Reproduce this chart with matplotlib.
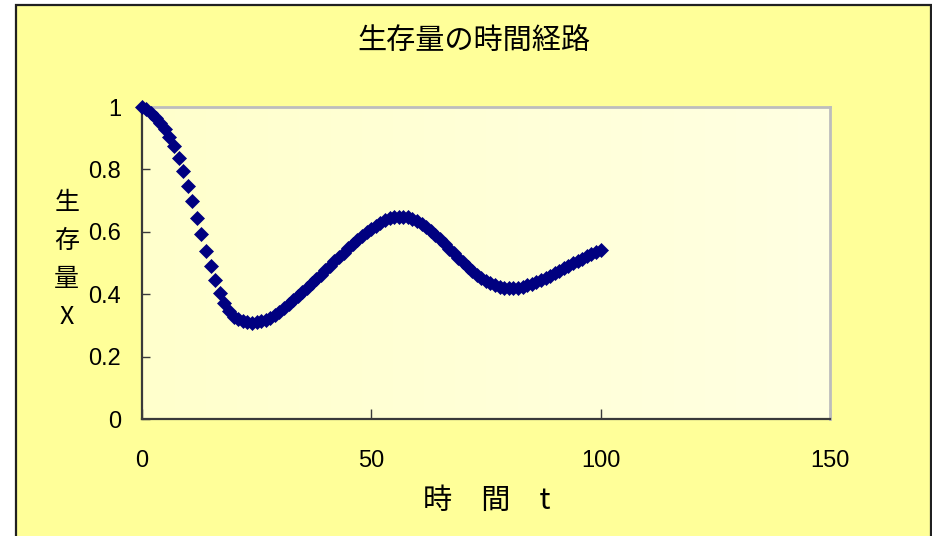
import numpy as np
import matplotlib
matplotlib.use("Agg")
import matplotlib.pyplot as plt
from matplotlib.patches import Rectangle

# Survival stock X over time t
t_values = list(range(0, 101))
x_values = [
    1.000, 0.993, 0.982, 0.966, 0.950, 0.930, 0.905, 0.874, 0.836, 0.794,
    0.748, 0.698, 0.645, 0.592, 0.539, 0.490, 0.445, 0.405, 0.372, 0.347,
    0.328, 0.319, 0.313, 0.310, 0.309, 0.310, 0.313, 0.318, 0.325, 0.334,
    0.344, 0.355, 0.367, 0.380, 0.393, 0.407, 0.421, 0.435, 0.449, 0.463,
    0.477, 0.491, 0.505, 0.519, 0.533, 0.547, 0.561, 0.574, 0.587, 0.599,
    0.610, 0.620, 0.629, 0.637, 0.643, 0.647, 0.649, 0.649, 0.647, 0.642,
    0.635, 0.626, 0.615, 0.603, 0.590, 0.576, 0.561, 0.546, 0.531, 0.516,
    0.502, 0.488, 0.475, 0.463, 0.452, 0.443, 0.435, 0.429, 0.424, 0.421,
    0.420, 0.420, 0.421, 0.424, 0.428, 0.433, 0.439, 0.445, 0.452, 0.459,
    0.467, 0.475, 0.483, 0.491, 0.499, 0.507, 0.514, 0.521, 0.528, 0.535,
    0.541,
]

x_ticks = [0, 50, 100, 150]
y_ticks = [0, 0.2, 0.4, 0.6, 0.8, 1.0]
y_tick_labels = ["0", "0.2", "0.4", "0.6", "0.8", "1"]

title_text = "生存量の時間経路"
xlabel_text = "時\u3000間\u3000t"
ylabel_text = "生\n存\n量\nX"

W, H = 932, 536
cjk = ["Noto Sans CJK JP", "DejaVu Sans"]
num_font = ["Liberation Sans Narrow", "Liberation Sans", "DejaVu Sans"]

fig = plt.figure(figsize=(W / 100, H / 100), dpi=100)
fig.patch.set_facecolor("white")

# chart frame
frame = Rectangle((15.5 / W, -0.05), (931 - 15.5) / W, (H - 4.5) / H + 0.05,
                  transform=fig.transFigure, facecolor="#FFFF99",
                  edgecolor="#202020", linewidth=1.6, zorder=-1)
fig.patches.append(frame)

ax_l, ax_r = 141.8 / W, 830 / W
ax_b, ax_t = 1 - 419 / H, 1 - 107 / H
ax = fig.add_axes([ax_l, ax_b, ax_r - ax_l, ax_t - ax_b])
ax.set_zorder(2)
ax.set_xlim(0, 150)
ax.set_ylim(0, 1)

# plot-area fill with a soft horizontal gradient
grad = np.linspace(0, 1, 256).reshape(1, -1)
cmap = matplotlib.colors.LinearSegmentedColormap.from_list(
    "pa", ["#FFFFCC", "#FFFFE2"])
ax.imshow(grad, extent=[0, 150, 0, 1], aspect="auto", cmap=cmap,
          zorder=0, interpolation="bilinear")

ax.plot(t_values, x_values, linestyle="none", marker="D", markersize=7.4,
        color="#000080", markeredgewidth=0.5, clip_on=False, zorder=3)

for side in ("top", "right"):
    ax.spines[side].set_color("#BDBDBD")
    ax.spines[side].set_linewidth(2.0)
for side in ("left", "bottom"):
    ax.spines[side].set_color("#3A3A3A")
    ax.spines[side].set_linewidth(1.6)

ax.set_xticks(x_ticks)
ax.set_xticklabels([str(v) for v in x_ticks], fontfamily=num_font, fontsize=17)
ax.set_yticks(y_ticks)
ax.set_yticklabels(y_tick_labels, fontfamily=num_font, fontsize=17)
ax.tick_params(axis="x", direction="in", length=7, width=1.0, color="#3A3A3A",
               pad=22)
ax.tick_params(axis="y", direction="in", length=6, width=1.0, color="#3A3A3A",
               pad=15)

fig.text(474 / W, 1 - 41 / H, title_text, ha="center", va="center",
         fontsize=21, family=cjk)
fig.text(487 / W, 1 - 501 / H, xlabel_text, ha="center", va="center",
         fontsize=21, family=cjk)
fig.text(66.7 / W, 1 - 260 / H, ylabel_text, ha="center", va="center",
         fontsize=18, family=cjk, linespacing=1.6)

fig.savefig("out.png", dpi=100, facecolor=fig.get_facecolor())
